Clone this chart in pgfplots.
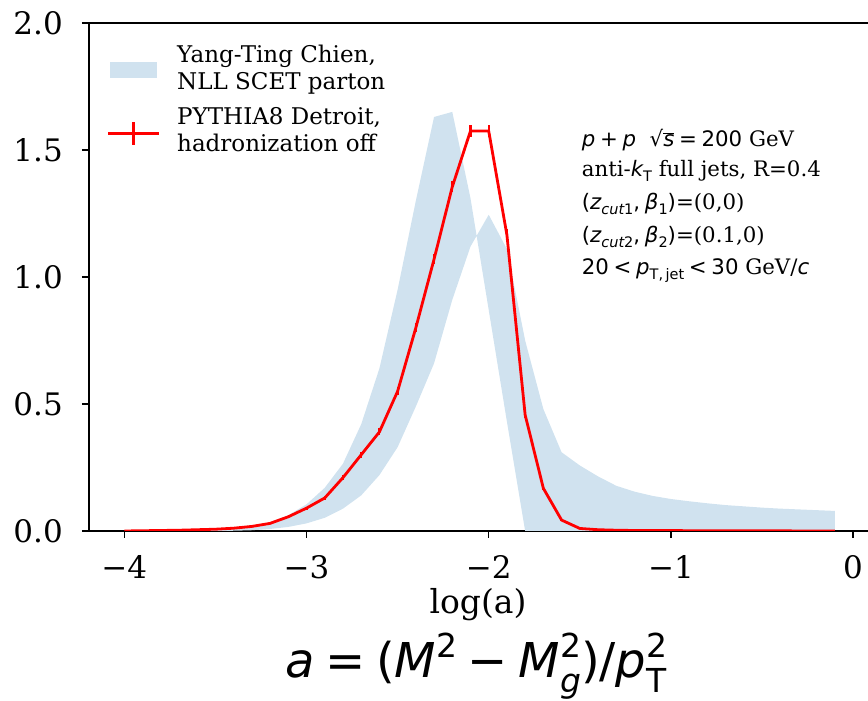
\documentclass[border=0pt]{standalone}
\usepackage{fontspec}
\setmainfont{DejaVu Serif}
\newfontfamily\ms{DejaVu Sans}
\usepackage{pgfplots}
\pgfplotsset{compat=1.18}
\usepgfplotslibrary{fillbetween}
\definecolor{band}{RGB}{208,226,239}
\newcommand\mi[1]{{\ms\itshape #1}}
\newcommand\fsz[1]{\fontsize{#1}{#1}\selectfont}
\newcommand\bs{\hspace{0.22em}}

\pgfplotstableread{
x A B
-4.0 0.000 0.000
-3.9 0.000 0.000
-3.8 0.000 0.000
-3.7 0.001 0.000
-3.6 0.002 0.000
-3.5 0.004 0.000
-3.4 0.008 0.001
-3.3 0.017 0.003
-3.2 0.034 0.008
-3.1 0.062 0.016
-3.0 0.105 0.030
-2.9 0.170 0.052
-2.8 0.265 0.088
-2.7 0.420 0.140
-2.6 0.640 0.220
-2.5 0.950 0.330
-2.4 1.300 0.490
-2.3 1.630 0.660
-2.2 1.650 0.910
-2.1 1.310 1.120
-2.0 0.870 1.245
-1.9 0.430 1.110
-1.8 0.000 0.750
-1.7 0.000 0.480
-1.6 0.000 0.310
-1.5 0.000 0.258
-1.4 0.000 0.215
-1.3 0.000 0.178
-1.2 0.000 0.155
-1.1 0.000 0.138
-1.0 0.000 0.126
-0.9 0.000 0.117
-0.8 0.000 0.109
-0.7 0.000 0.102
-0.6 0.000 0.097
-0.5 0.000 0.092
-0.4 0.000 0.088
-0.3 0.000 0.085
-0.2 0.000 0.082
-0.1 0.000 0.079
}\bandtable

\pgfplotstableread{
x y e
-4.0 0.000 0.000
-3.9 0.001 0.000
-3.8 0.002 0.000
-3.7 0.003 0.001
-3.6 0.005 0.001
-3.5 0.007 0.001
-3.4 0.011 0.002
-3.3 0.018 0.003
-3.2 0.030 0.004
-3.1 0.056 0.005
-3.0 0.090 0.006
-2.9 0.130 0.008
-2.8 0.210 0.010
-2.7 0.300 0.012
-2.6 0.390 0.014
-2.5 0.550 0.016
-2.4 0.800 0.018
-2.3 1.070 0.020
-2.2 1.355 0.022
-2.1 1.575 0.025
-2.0 1.575 0.025
-1.9 1.165 0.022
-1.8 0.457 0.014
-1.7 0.168 0.008
-1.6 0.043 0.004
-1.5 0.010 0.002
-1.4 0.005 0.001
-1.3 0.003 0.001
-1.2 0.002 0.000
-1.1 0.002 0.000
-1.0 0.002 0.000
-0.9 0.001 0.000
-0.8 0.001 0.000
-0.7 0.001 0.000
-0.6 0.001 0.000
-0.5 0.001 0.000
-0.4 0.001 0.000
-0.3 0.000 0.000
-0.2 0.000 0.000
-0.1 0.000 0.000
}\redtable

\begin{document}
\begin{tikzpicture}
\begin{axis}[
  at={(88.8pt,170pt)}, anchor=south west,
  scale only axis, width=781.6pt, height=508pt,
  xmin=-4.195, xmax=0.095, ymin=0, ymax=2,
  axis line style={line width=1.5pt, black},
  xtick={-4,-3,-2,-1,0}, xticklabels={−4,−3,−2,−1,0},
  ytick={0,0.5,1,1.5,2}, yticklabels={0.0,0.5,1.0,1.5,2.0},
  xtick pos=bottom, ytick pos=left,
  tick align=outside, major tick length=7pt,
  tick style={line width=1.3pt, black},
  xticklabel style={font=\fsz{31}, anchor=base, inner sep=0pt, yshift=-41pt},
  yticklabel style={font=\fsz{31}, anchor=east, inner sep=0pt, xshift=-18.8pt},
]
\addplot[name path=A, draw=none] table[x=x, y=A] {\bandtable};
\addplot[name path=B, draw=none] table[x=x, y=B] {\bandtable};
\addplot[band, draw=none] fill between[of=A and B];
\addplot[red, line width=2.8pt, line join=round,
  error bars/.cd, y dir=both, y explicit, error mark=none,
  error bar style={line width=2.2pt, red}]
  table[x=x, y=y, y error=e] {\redtable};
\end{axis}

% legend
\fill[band] (110pt,623pt) rectangle (157pt,639pt);
\node[anchor=base west, inner sep=0pt, font=\fsz{23}] at (177pt,638pt) {Yang-Ting Chien,};
\node[anchor=base west, inner sep=0pt, font=\fsz{23}] at (177pt,611pt) {NLL SCET parton};
\draw[red, line width=3pt] (108pt,567.7pt) -- (159pt,567.7pt);
\draw[red, line width=3pt] (133.5pt,556pt) -- (133.5pt,579pt);
\node[anchor=base west, inner sep=0pt, font=\fsz{23}] at (177pt,576pt) {PYTHIA8 Detroit,};
\node[anchor=base west, inner sep=0pt, font=\fsz{23}] at (177pt,549.3pt) {hadronization off};

% annotation
\begin{scope}[every node/.style={anchor=base west, inner sep=0pt, font=\fsz{21.3}}]
\node at (581.7pt,554.3pt) {\mi{p}\bs{\ms+}\bs\mi{p}\ \ {\ms √}$\overline{\hbox{\mi{s}}}$\bs{\ms=}\bs{\ms 200} GeV};
\node at (581.7pt,524pt) {anti-\mi{k}\raisebox{-0.2em}{\fsz{14.5}\ms T} full jets, R=0.4};
\node at (581.7pt,491pt) {{\ms(}\mi{z}\raisebox{-0.2em}{\fsz{14.5}\mi{cut}{\ms 1}}{\ms,}\bs\mi{β}\raisebox{-0.2em}{\fsz{14.5}\ms 1}{\ms)}=(0,0)};
\node at (581.7pt,458pt) {{\ms(}\mi{z}\raisebox{-0.2em}{\fsz{14.5}\mi{cut}{\ms 2}}{\ms,}\bs\mi{β}\raisebox{-0.2em}{\fsz{14.5}\ms 2}{\ms)}=(0.1,0)};
\node at (581.7pt,426pt) {{\ms 20}\bs{\ms<}\bs\mi{p}\raisebox{-0.2em}{\fsz{14.5}\ms T,\,jet}\bs{\ms<}\bs{\ms 30} GeV/\mi{c}};
\end{scope}

% axis label and formula
\node[anchor=base, inner sep=0pt, font=\fsz{33}] at (478pt,87pt) {log(a)};
\node[anchor=base, inner sep=0pt, font=\fsz{48}] at (476pt,23pt) {\mi{a}\bs{\ms =}\bs{\ms (}\mi{M}\raisebox{0.42em}{\fsz{33}\ms 2}\bs{\ms −}\bs\mi{M}\rlap{\raisebox{0.42em}{\fsz{33}\ms 2}}\raisebox{-0.3em}{\fsz{33}\mi{g}}{\ms )/}\mi{p}\rlap{\raisebox{0.42em}{\fsz{33}\ms 2}}\raisebox{-0.3em}{\fsz{33}\ms T}};

\pgfresetboundingbox
\path[use as bounding box] (0,0) rectangle (868pt,701pt);
\end{tikzpicture}
\end{document}
